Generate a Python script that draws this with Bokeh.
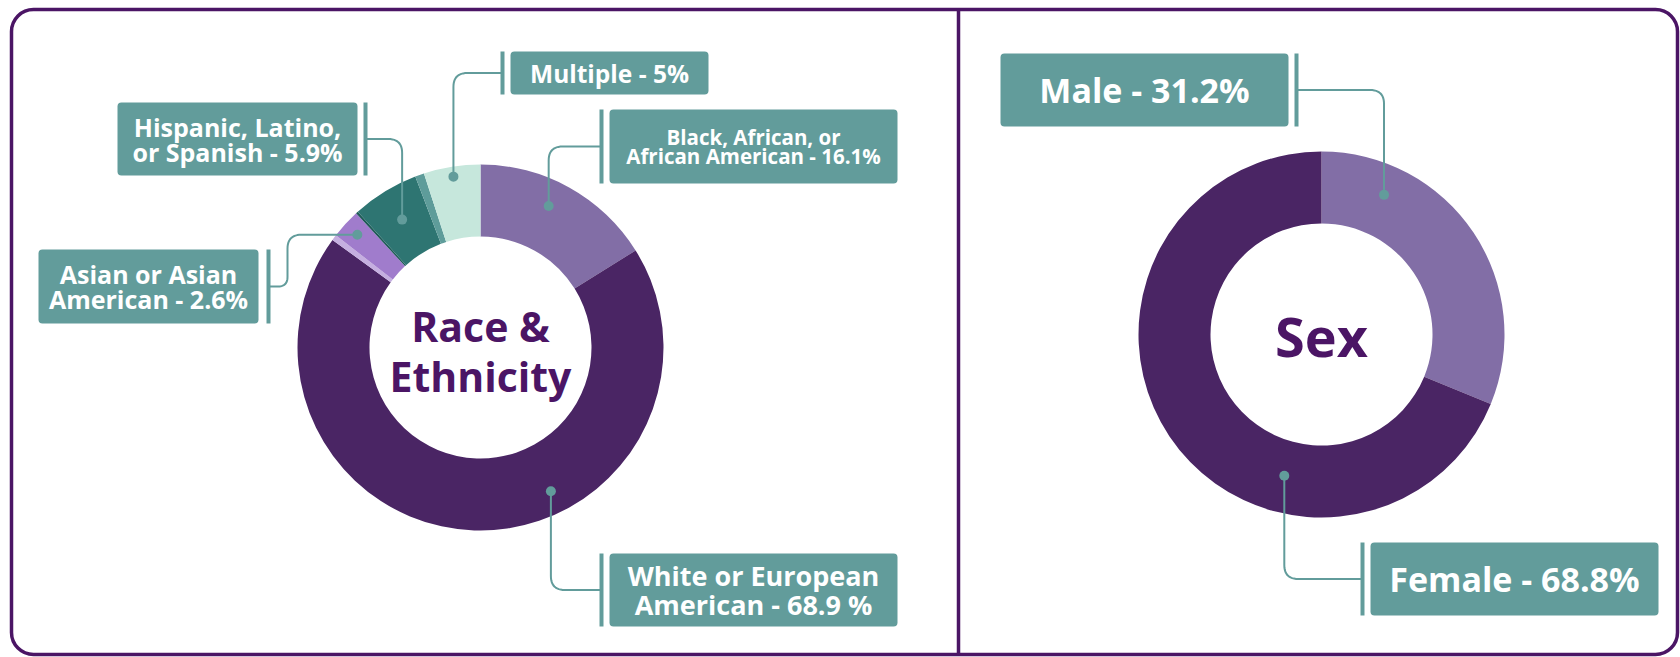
import math
from bokeh.plotting import figure
from bokeh.models import Range1d
from bokeh.embed import file_html
from bokeh.resources import INLINE
from bokeh.core.properties import value

# ---------------- data ----------------
race_categories = ["Black, African, or African American", "White or European American",
                   "Other A", "Asian or Asian American", "Other B",
                   "Hispanic, Latino, or Spanish", "Other C", "Multiple"]
race_values = [16.1, 68.9, 0.5, 2.6, 0.2, 5.9, 0.8, 5.0]
race_label_lines = [["Black, African, or", "African American - 16.1%"],
                    ["White or European", "American - 68.9 %"],
                    None,
                    ["Asian or Asian", "American - 2.6%"],
                    None,
                    ["Hispanic, Latino,", "or Spanish - 5.9%"],
                    None,
                    ["Multiple - 5%"]]

sex_categories = ["Male", "Female"]
sex_values = [31.2, 68.8]
sex_label_lines = [["Male - 31.2%"], ["Female - 68.8%"]]

# ---------------- style ----------------
race_colors = ["#826ea6", "#4a2564", "#c5afe0", "#a07ccc", "#1f5a57", "#2e7572", "#5e9c9a", "#c6e7dc"]
sex_colors = ["#826ea6", "#4a2564"]
BOX = "#629c9b"
DARK = "#4b1565"
FONT = value("Open Sans")
W, H = 1680, 657


def Y(y):
    return H - y


p = figure(width=W, height=H, x_range=Range1d(0, W), y_range=Range1d(0, H),
           output_backend="svg", toolbar_location=None, min_border=0,
           x_axis_type=None, y_axis_type=None)
p.grid.visible = False
p.outline_line_color = None
p.background_fill_color = "white"

# frame + divider
p.quad(left=[11], right=[1677], top=[Y(9)], bottom=[Y(654)], fill_alpha=0,
       line_color=DARK, line_width=3.5, border_radius=22)
p.segment(x0=[958], y0=[Y(9)], x1=[958], y1=[Y(654)], line_color=DARK, line_width=3.5)


def donut(vals, colors, cx, cy, r_in, r_out):
    tot = sum(vals)
    c = 0.0
    starts, ends, fr = [], [], []
    for v in vals:
        c0 = c / tot
        c += v
        c1 = c / tot
        starts.append(math.pi / 2 - 2 * math.pi * c0)
        ends.append(math.pi / 2 - 2 * math.pi * c1)
        fr.append((c0, c1))
    p.annular_wedge(x=[cx] * len(vals), y=[Y(cy)] * len(vals), inner_radius=r_in, outer_radius=r_out,
                    start_angle=starts, end_angle=ends, direction="clock",
                    fill_color=colors, line_color=None)
    return fr


def rounded(pts, r=14, n=12):
    out = [pts[0]]
    for i in range(1, len(pts) - 1):
        p0, p1, p2 = pts[i - 1], pts[i], pts[i + 1]
        d1 = math.hypot(p0[0] - p1[0], p0[1] - p1[1])
        d2 = math.hypot(p2[0] - p1[0], p2[1] - p1[1])
        rr = min(r, d1 / 2, d2 / 2)
        a = (p1[0] + (p0[0] - p1[0]) * rr / d1, p1[1] + (p0[1] - p1[1]) * rr / d1)
        b = (p1[0] + (p2[0] - p1[0]) * rr / d2, p1[1] + (p2[1] - p1[1]) * rr / d2)
        for k in range(n + 1):
            t = k / n
            x = (1 - t) ** 2 * a[0] + 2 * (1 - t) * t * p1[0] + t * t * b[0]
            y = (1 - t) ** 2 * a[1] + 2 * (1 - t) * t * p1[1] + t * t * b[1]
            out.append((x, y))
    out.append(pts[-1])
    return out


def label(lines, box, bar_x, size, spacing, dot, via=None):
    x0, x1, y0, y1 = box
    my = (y0 + y1) / 2
    p.quad(left=[x0], right=[x1], top=[Y(y0)], bottom=[Y(y1)], fill_color=BOX,
           line_color=None, border_radius=4)
    p.segment(x0=[bar_x], y0=[Y(y0)], x1=[bar_x], y1=[Y(y1)], line_color=BOX, line_width=4)
    n = len(lines)
    ys = [my + (i - (n - 1) / 2) * spacing for i in range(n)]
    p.text(x=[(x0 + x1) / 2] * n, y=[Y(v) for v in ys], text=lines, text_font=FONT,
           text_font_style="bold", text_font_size=f"{size}px", text_color="white",
           text_align="center", text_baseline="middle")
    if via is None:
        pts = [dot, (dot[0], my), (bar_x, my)]
    else:
        pts = [dot, (via, dot[1]), (via, my), (bar_x, my)]
    rp = rounded(pts)
    p.line(x=[q[0] for q in rp], y=[Y(q[1]) for q in rp], line_color=BOX, line_width=2)
    p.scatter(x=[dot[0]], y=[Y(dot[1])], size=10, fill_color=BOX, line_color=None)


def anchor(cx, cy, f, rr):
    return (cx + rr * math.sin(2 * math.pi * f), cy - rr * math.cos(2 * math.pi * f))


# ---------------- race donut ----------------
RCX, RCY = 480, 347
rfr = donut(race_values, race_colors, RCX, RCY, 111, 183)
# label placement (index, box, bar_x, font size, line spacing, anchor frac offset, radius, via)
race_place = [
    (0, (609, 897, 109, 183), 601, 20.5, 19, -0.009, 157, None),
    (1, (609, 897, 553, 626), 601, 27, 29, -0.078, 160, None),
    (3, (38, 258, 249, 323), 268, 25, 25, 0.0, 167, 287),
    (5, (117, 357, 102, 175), 365, 25, 25, 0.0, 150, None),
    (7, (510, 708, 51, 94), 502, 24.5, 25, 0.0, 173, None),
]
for idx, box, bx, sz, sp, off, rr, via in race_place:
    c0, c1 = rfr[idx]
    d = anchor(RCX, RCY, (c0 + c1) / 2 + off, rr)
    label(race_label_lines[idx], box, bx, sz, sp, d, via)

p.text(x=[RCX, RCX], y=[Y(325), Y(375)], text=["Race &", "Ethnicity"], text_font=FONT,
       text_font_style="bold", text_font_size="41px", text_color=DARK,
       text_align="center", text_baseline="middle")

# ---------------- sex donut ----------------
SCX, SCY = 1321, 334
sfr = donut(sex_values, sex_colors, SCX, SCY, 111, 183)
sex_place = [
    (0, (1000, 1288, 53, 126), 1296, 34, 30, -0.089, 153),
    (1, (1370, 1658, 542, 615), 1362, 34, 30, -0.115, 146),
]
for idx, box, bx, sz, sp, off, rr in sex_place:
    c0, c1 = sfr[idx]
    d = anchor(SCX, SCY, (c0 + c1) / 2 + off, rr)
    label(sex_label_lines[idx], box, bx, sz, sp, d)

p.text(x=[SCX], y=[Y(335)], text=["Sex"], text_font=FONT, text_font_style="bold",
       text_font_size="54px", text_color=DARK, text_align="center", text_baseline="middle")

open("out.html", "w").write(file_html(p, INLINE))
